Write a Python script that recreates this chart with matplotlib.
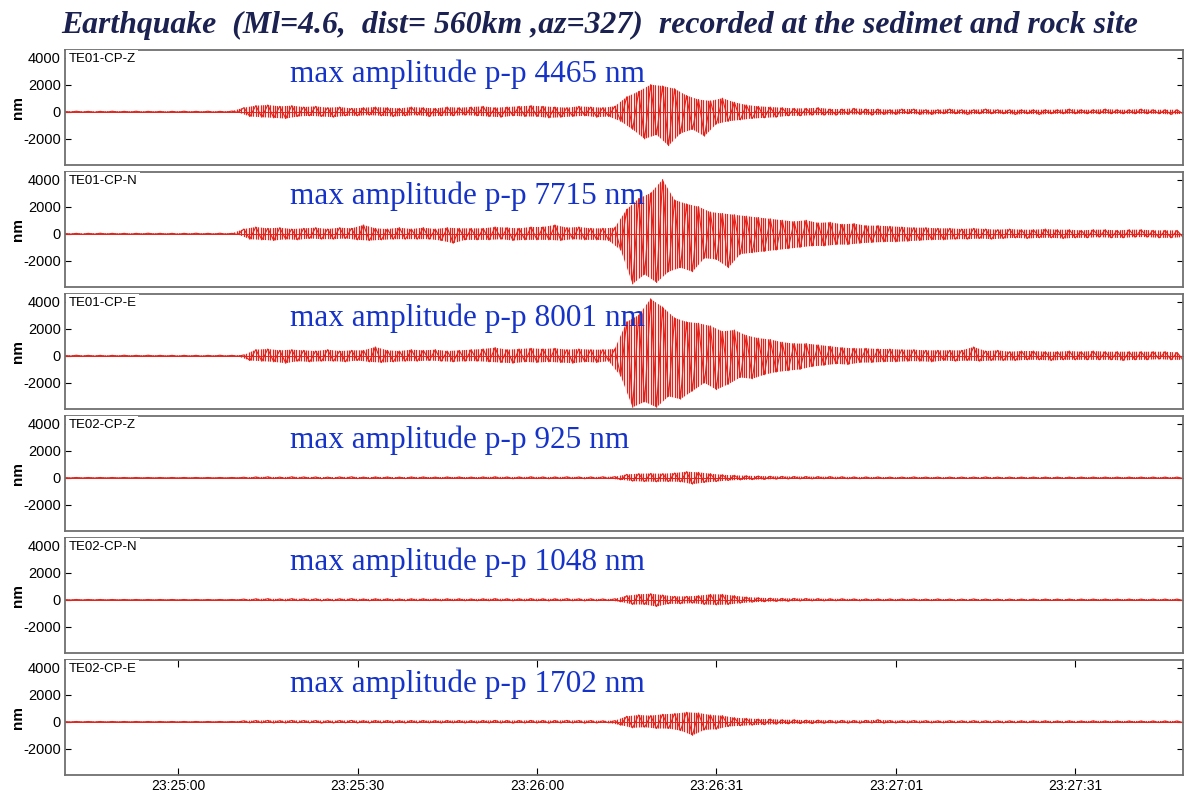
import numpy as np
import matplotlib.pyplot as plt
from matplotlib.patches import Polygon

# seconds after 23:25:00 of the first value; one peak value per second after that
t_start = -19

# successive swing peaks (nm), rows of 10 s
te01_z = [30, -30, 40, -30, 30, -40, 30, -30, 40, -30,
          30, -30, 40, -40, 30, -30, 30, -40, 30, -30,
          40, -30, 30, -30, 40, -40, 30, -30, 50, -40,
          300, -350, 450, -400, 500, -450, 400, -500, 450, -350,
          350, -300, 400, -350, 300, -400, 350, -300, 250, -300,
          300, -250, 350, -300, 300, -350, 250, -300, 350, -250,
          300, -350, 250, -300, 350, -300, 300, -250, 350, -300,
          400, -350, 300, -400, 350, -300, 400, -350, 450, -350,
          400, -450, 350, -400, 300, -350, 400, -300, 350, -400,
          300, -350, 400, -700, 1100, -1300, 1500, -2000, 2000, -1700,
          1900, -2500, 1700, -1600, 1200, -1300, 900, -1800, 800, -900,
          1000, -700, 700, -600, 500, -500, 400, -450, 350, -400,
          300, -300, 250, -300, 250, -250, 300, -250, 200, -250,
          200, -200, 250, -200, 200, -250, 200, -200, 150, -200,
          200, -150, 200, -200, 150, -200, 150, -150, 200, -150,
          150, -200, 150, -150, 200, -150, 150, -150, 150, -200,
          150, -150, 150, -200, 150, -150, 150, -150, 200, -150,
          150, -150, 150, -150, 200, -150, 150, -150, 150, -150,
          200, -150, 150, -150, 150, -200, 150, -150]

te01_n = [30, -30, 30, -40, 30, -30, 40, -30, 30, -30,
          30, -40, 30, -30, 40, -30, 30, -30, 30, -40,
          30, -30, 40, -30, 30, -30, 40, -30, 30, -50,
          350, -400, 500, -450, 400, -500, 450, -400, 350, -450,
          400, -350, 450, -400, 350, -400, 450, -350, 400, -450,
          650, -500, 400, -450, 350, -400, 450, -400, 350, -400,
          450, -400, 350, -500, 450, -700, 400, -450, 400, -450,
          400, -450, 500, -400, 450, -500, 400, -450, 500, -450,
          500, -450, 650, -500, 450, -400, 500, -450, 400, -450,
          400, -500, 450, -1200, 1800, -3700, 2600, -3000, 3000, -3600,
          4000, -2800, 2500, -2500, 2200, -2800, 2000, -1800, 1600, -1900,
          1500, -2500, 1400, -1500, 1300, -1400, 1200, -1300, 1100, -1200,
          1000, -1100, 900, -1000, 1000, -900, 800, -900, 850, -800,
          700, -800, 750, -700, 600, -650, 600, -600, 550, -600,
          500, -550, 450, -500, 450, -450, 400, -450, 400, -400,
          350, -400, 400, -350, 350, -400, 300, -350, 350, -300,
          300, -350, 300, -300, 350, -300, 300, -350, 300, -300,
          250, -300, 300, -250, 300, -300, 250, -300, 300, -250,
          300, -250, 250, -300, 250, -300, 250, -250]

te01_e = [30, -30, 40, -30, 30, -30, 30, -40, 30, -30,
          40, -30, 30, -30, 40, -30, 30, -30, 30, -40,
          30, -30, 30, -40, 30, -30, 40, -30, 30, -40,
          60, -350, 450, -400, 500, -450, 400, -550, 450, -400,
          400, -450, 350, -400, 450, -400, 350, -450, 400, -350,
          400, -450, 650, -500, 400, -450, 350, -400, 450, -400,
          400, -350, 450, -400, 350, -450, 400, -400, 450, -400,
          500, -450, 600, -500, 450, -550, 500, -450, 550, -500,
          500, -450, 550, -500, 450, -550, 500, -450, 450, -500,
          450, -400, 500, -1500, 2500, -3800, 3000, -3400, 4200, -3800,
          3600, -3000, 2800, -3200, 2500, -2600, 2400, -2000, 2200, -2500,
          1800, -2100, 1900, -1600, 1500, -1700, 1300, -1400, 1200, -1200,
          1000, -1100, 900, -1000, 900, -800, 800, -700, 700, -600,
          600, -650, 550, -500, 550, -500, 500, -450, 500, -450,
          450, -400, 450, -400, 400, -450, 400, -350, 400, -400,
          400, -350, 650, -400, 350, -350, 400, -350, 300, -350,
          350, -300, 350, -300, 300, -350, 300, -300, 350, -300,
          300, -300, 350, -300, 300, -300, 300, -350, 300, -300,
          300, -300, 300, -250, 300, -300, 250, -300]

te02_z = [20, -20, 20, -20, 20, -20, 20, -20, 20, -20,
          20, -20, 20, -20, 20, -20, 20, -20, 20, -20,
          20, -20, 20, -20, 20, -20, 20, -20, 20, -20,
          40, -50, 60, -50, 70, -60, 50, -60, 70, -50,
          60, -50, 60, -70, 50, -60, 60, -50, 70, -60,
          50, -60, 60, -50, 60, -60, 50, -60, 60, -50,
          60, -50, 50, -60, 60, -50, 60, -60, 50, -60,
          60, -60, 70, -60, 60, -70, 60, -60, 70, -60,
          60, -70, 60, -60, 70, -60, 60, -70, 60, -60,
          70, -60, 80, -150, 250, -250, 300, -280, 320, -300,
          300, -280, 350, -300, 450, -470, 400, -350, 300, -280,
          220, -200, 180, -160, 150, -140, 130, -120, 110, -100,
          100, -90, 90, -80, 90, -80, 80, -70, 80, -70,
          70, -70, 60, -70, 60, -60, 60, -60, 50, -60,
          50, -50, 60, -50, 50, -50, 50, -60, 50, -50,
          50, -50, 50, -50, 60, -50, 50, -50, 50, -50,
          50, -50, 50, -50, 50, -50, 50, -50, 50, -50,
          50, -50, 50, -50, 50, -50, 50, -50, 50, -50,
          50, -50, 50, -50, 50, -50, 50, -50]

te02_n = [20, -20, 20, -20, 20, -20, 20, -20, 20, -20,
          20, -20, 20, -20, 20, -20, 20, -20, 20, -20,
          20, -20, 20, -20, 20, -20, 20, -20, 20, -20,
          50, -60, 70, -60, 80, -70, 60, -70, 80, -60,
          70, -60, 70, -80, 60, -70, 70, -60, 80, -70,
          60, -70, 70, -60, 70, -70, 60, -70, 70, -60,
          70, -60, 60, -70, 70, -60, 70, -70, 60, -70,
          70, -70, 80, -70, 70, -80, 70, -70, 80, -70,
          70, -80, 70, -70, 80, -70, 70, -80, 70, -70,
          60, -60, 70, -150, 300, -350, 400, -350, 450, -500,
          350, -300, 250, -300, 250, -250, 300, -350, 400, -380,
          400, -350, 300, -250, 200, -180, 150, -150, 120, -120,
          100, -110, 100, -90, 90, -80, 80, -80, 70, -70,
          70, -60, 60, -70, 60, -60, 60, -60, 60, -60,
          60, -50, 60, -60, 50, -60, 60, -50, 50, -60,
          50, -50, 60, -50, 50, -50, 50, -60, 50, -50,
          50, -50, 50, -50, 50, -50, 50, -50, 50, -50,
          50, -50, 50, -50, 50, -50, 50, -50, 50, -50,
          50, -50, 50, -50, 50, -50, 50, -50]

te02_e = [20, -20, 20, -20, 20, -20, 20, -20, 20, -20,
          20, -20, 20, -20, 20, -20, 20, -20, 20, -20,
          20, -20, 20, -20, 20, -20, 20, -20, 20, -20,
          70, -80, 90, -80, 100, -90, 80, -90, 100, -80,
          90, -80, 90, -100, 80, -90, 90, -80, 100, -90,
          80, -90, 90, -80, 90, -90, 80, -90, 90, -80,
          90, -80, 80, -90, 90, -80, 90, -90, 80, -90,
          90, -90, 100, -90, 90, -100, 90, -90, 100, -90,
          90, -100, 90, -90, 100, -90, 90, -100, 90, -90,
          70, -80, 80, -250, 400, -450, 500, -400, 450, -500,
          550, -500, 600, -650, 700, -1000, 650, -600, 500, -550,
          450, -350, 300, -300, 250, -250, 200, -220, 200, -180,
          150, -160, 150, -130, 120, -130, 120, -110, 100, -100,
          100, -100, 90, -100, 100, -90, 150, -100, 90, -90,
          80, -80, 90, -80, 80, -80, 70, -80, 80, -70,
          70, -70, 80, -70, 70, -70, 70, -80, 70, -70,
          70, -70, 70, -60, 70, -70, 60, -70, 70, -60,
          60, -60, 70, -60, 60, -60, 60, -60, 60, -60,
          60, -60, 60, -60, 60, -60, 60, -60]

stations = ["TE01-CP-Z", "TE01-CP-N", "TE01-CP-E",
            "TE02-CP-Z", "TE02-CP-N", "TE02-CP-E"]
pp_amp = [4465, 7715, 8001, 925, 1048, 1702]
traces = [te01_z, te01_n, te01_e, te02_z, te02_n, te02_e]

y_ticks = [4000, 2000, 0, -2000]
x_ticks = [0, 30, 60, 90, 120, 150]
x_labels = ["23:25:00", "23:25:30", "23:26:00", "23:26:31", "23:27:01", "23:27:31"]

title = "Earthquake  (Ml=4.6,  dist= 560km ,az=327)  recorded at the sedimet and rock site"

red = '#e3231b'

W, H = 1184, 794
fig = plt.figure(figsize=(W / 100, H / 100), dpi=100)
fig.text(600 / W, 1 - 25 / H, title, ha='center', va='center', family='Liberation Serif',
         weight='bold', style='italic', size=22.9, color='#1b2150')

tops = [50, 172, 294, 416, 538, 660]
ph = 115
for i in range(6):
    ax = fig.add_axes([65 / W, 1 - (tops[i] + ph) / H, 1118 / W, ph / H])
    y = np.array(traces[i])
    t = t_start + np.arange(len(y))
    up = y > 0
    # envelope of the swings, used only as a clip region for a dense line texture
    env = Polygon(np.c_[np.r_[t[up], t[~up][::-1]], np.r_[y[up], y[~up][::-1]]],
                  closed=True, facecolor='none', edgecolor='none')
    ax.add_patch(env)
    strokes = ax.vlines(np.arange(t[0], t[-1], 0.4), -5000, 5000, color=red, lw=0.9)
    strokes.set_clip_path(env)
    ax.plot(t, y, color=red, lw=0.8)
    ax.axhline(0, color=red, lw=0.7)
    ax.set_xlim(-18.9, 168)
    ax.set_ylim(-3930, 4560)
    ax.set_yticks(y_ticks)
    ax.set_yticklabels([str(v) for v in y_ticks], family='Liberation Sans', size=10.5)
    ax.set_ylabel("nm", family='Liberation Sans', weight='bold', size=11)
    ax.yaxis.set_label_coords(-0.036, 0.5)
    ax.tick_params(axis='y', direction='in', left=True, right=True, length=4, pad=3)
    if i == 5:
        ax.set_xticks(x_ticks)
        ax.set_xticklabels(x_labels, family='Liberation Sans', size=10)
        ax.tick_params(axis='x', direction='in', top=True, bottom=True, length=5, pad=3)
    else:
        ax.set_xticks([])
    for s in ax.spines.values():
        s.set_color('#707070')
        s.set_linewidth(1.3)
    ax.text(0.003, 0.975, stations[i], transform=ax.transAxes, ha='left', va='top',
            family='Liberation Sans', size=9.5, zorder=5,
            bbox=dict(facecolor='white', edgecolor='none', pad=2))
    ax.text(0.201, 0.79, "max amplitude p-p %d nm" % pp_amp[i], transform=ax.transAxes,
            ha='left', va='center', family='Liberation Serif', size=22.5, color='#1533c8')

fig.savefig("out.png", dpi=100)
